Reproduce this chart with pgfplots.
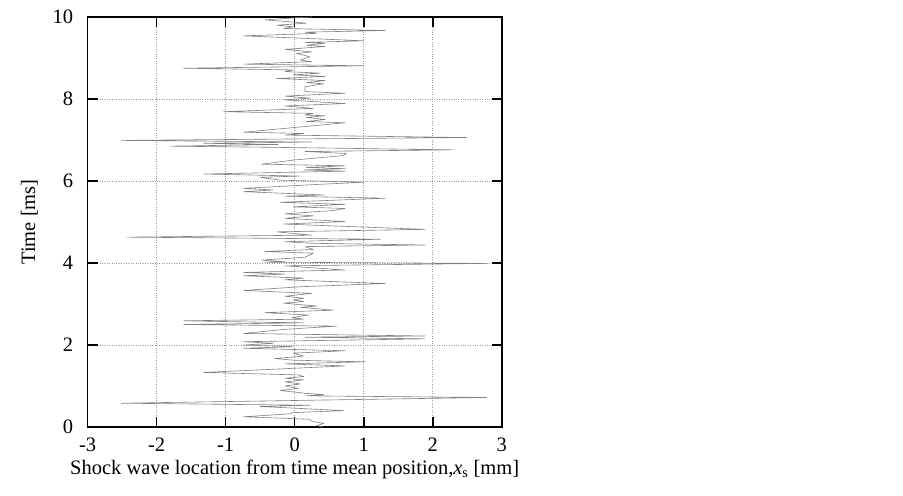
\documentclass[border=0pt]{standalone}
\usepackage{pgfplots}
\pgfplotsset{compat=1.18}
\usepackage{fontspec}
\setmainfont{Liberation Serif}
\begin{document}
\begin{tikzpicture}
\path[use as bounding box] (-87.7bp,-69bp) rectangle (815.3bp,427bp);
\begin{axis}[
  at={(0,0)}, anchor=south west,
  scale only axis, width=414bp, height=410bp,
  xmin=-3, xmax=3, ymin=0, ymax=10,
  xtick={-3,-2,-1,0,1,2,3}, ytick={0,2,4,6,8,10},
  tick align=inside, major tick length=10bp,
  xtick pos=both, ytick pos=both,
  axis line style={line width=1.6bp},
  every tick/.style={black, line width=1.6bp},
  grid=major,
  major grid style={dotted, gray!80, line width=0.6bp},
  /pgf/number format/assume math mode=true,
  ticklabel style={font=\fontsize{20.5bp}{24bp}\selectfont},
  label style={font=\fontsize{20.5bp}{24bp}\selectfont},
  xticklabel style={yshift=-7bp},
  yticklabel style={xshift=-11bp},
  xlabel={Shock wave location from time mean position,\textit{x}\textsubscript{s} [mm]},
  ylabel={Time [ms]},
  xlabel style={yshift=-2bp},
  ylabel style={yshift=8bp},
]
\addplot[black!50, line width=0.6bp, line join=round] coordinates {
(0.25,10.0)(0.0,9.98)(-0.43,9.93)(0.17,9.85)(-0.26,9.80)(-0.02,9.76)(-0.16,9.72)(1.31,9.67)(0.15,9.63)(0.32,9.60)(-0.74,9.54)(1.00,9.42)(0.15,9.38)(0.44,9.36)(0.17,9.31)(0.44,9.28)(-0.14,9.21)(0.25,9.15)(0.03,9.11)(0.22,9.03)(0.08,8.95)(0.25,8.91)(-0.74,8.85)(1.00,8.81)(-1.61,8.75)(-0.02,8.71)(-0.14,8.67)(0.37,8.63)(-0.02,8.59)(0.44,8.55)(-0.26,8.50)(0.44,8.45)(0.17,8.40)(0.42,8.37)(0.15,8.30)(0.15,8.18)(0.73,8.14)(-0.14,8.07)(0.22,8.02)(-0.16,7.98)(0.05,7.96)(0.73,7.89)(-0.14,7.83)(0.27,7.77)(-1.03,7.69)(0.27,7.65)(0.15,7.61)(0.44,7.59)(0.17,7.55)(0.44,7.50)(0.17,7.45)(0.73,7.42)(0.22,7.34)(-0.74,7.19)(0.13,7.16)(-0.14,7.12)(2.49,7.06)(-2.51,6.99)(0.25,6.95)(-1.32,6.92)(-0.24,6.89)(-1.81,6.85)(-0.26,6.82)(2.30,6.76)(0.15,6.72)(0.75,6.67)(0.70,6.62)(-0.02,6.51)(-0.48,6.41)(0.17,6.39)(0.73,6.37)(0.17,6.33)(0.73,6.30)(0.13,6.27)(0.73,6.24)(-1.32,6.17)(0.08,6.12)(-0.50,6.09)(-0.21,6.02)(1.00,5.97)(0.37,5.92)(-0.74,5.82)(-0.31,5.78)(-0.74,5.74)(0.42,5.66)(-0.14,5.63)(1.31,5.58)(-0.21,5.48)(0.73,5.43)(-0.02,5.37)(0.73,5.33)(0.56,5.28)(-0.14,5.20)(0.27,5.15)(-0.14,5.09)(0.73,5.01)(-0.16,4.95)(1.89,4.82)(-0.26,4.76)(-0.02,4.72)(0.25,4.68)(-2.43,4.63)(1.24,4.58)(-0.14,4.52)(0.25,4.48)(1.89,4.44)(0.15,4.40)(0.27,4.33)(-0.43,4.28)(0.27,4.24)(0.15,4.14)(-0.48,4.07)(-0.14,4.03)(-0.45,4.02)(2.78,3.99)(-0.14,3.93)(0.73,3.83)(-0.74,3.77)(-0.14,3.73)(-0.74,3.69)(0.13,3.63)(-0.14,3.59)(1.31,3.50)(0.08,3.42)(-0.74,3.33)(0.25,3.26)(-0.14,3.19)(0.13,3.14)(-0.02,3.10)(0.13,3.06)(-0.16,3.02)(0.32,2.95)(0.08,2.92)(0.56,2.85)(-0.43,2.79)(0.20,2.73)(-0.04,2.67)(0.13,2.63)(-1.61,2.59)(0.13,2.54)(-1.61,2.50)(0.61,2.46)(-0.16,2.38)(-0.74,2.28)(1.89,2.22)(0.15,2.19)(1.89,2.15)(-0.74,2.08)(-0.31,2.04)(-0.74,2.00)(-0.02,1.96)(-0.74,1.92)(0.73,1.86)(-0.02,1.80)(0.13,1.73)(-0.29,1.67)(-0.02,1.63)(1.02,1.59)(-0.14,1.54)(0.73,1.49)(-1.32,1.33)(0.05,1.27)(0.13,1.23)(-0.14,1.19)(0.13,1.15)(-0.14,1.10)(0.08,1.05)(-0.14,1.00)(0.05,0.94)(-0.21,0.89)(0.17,0.82)(0.42,0.79)(0.17,0.76)(2.78,0.72)(-2.51,0.58)(0.22,0.53)(-0.50,0.50)(0.71,0.40)(-0.02,0.35)(-0.07,0.32)(-0.74,0.25)(0.20,0.19)(0.27,0.13)(0.42,0.09)(0.32,0.03)(0.42,0.0)
};
\end{axis}
\end{tikzpicture}
\end{document}
